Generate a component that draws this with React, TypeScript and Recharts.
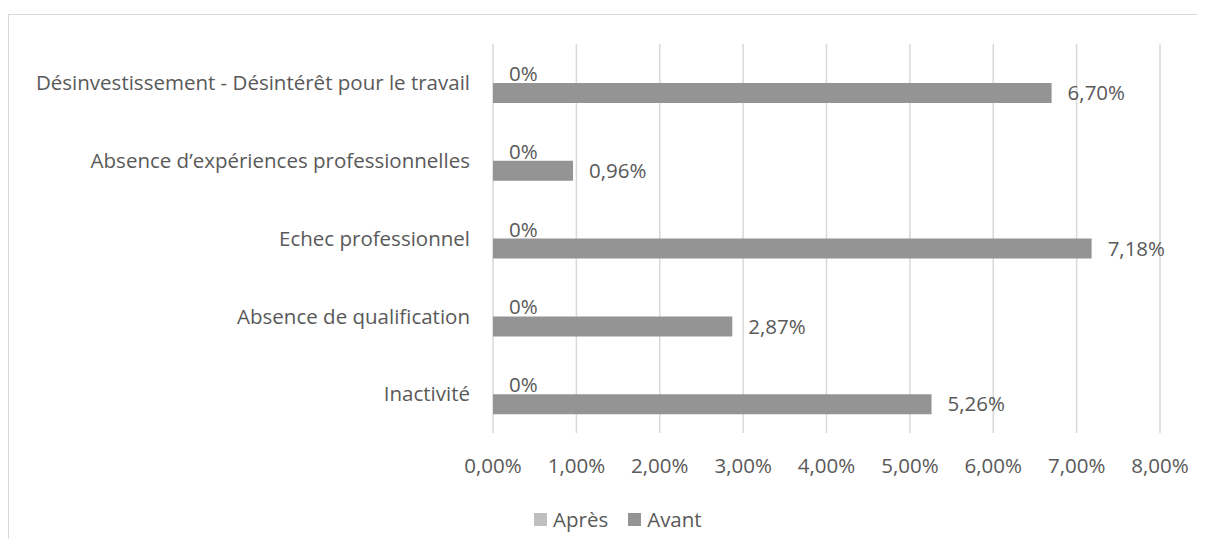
import React from 'react';
import { BarChart, Bar, XAxis, YAxis, CartesianGrid, Legend, LabelList } from 'recharts';

const categories = [
  'Désinvestissement - Désintérêt pour le travail',
  'Absence d’expériences professionnelles',
  'Echec professionnel',
  'Absence de qualification',
  'Inactivité',
];
const apres = [0, 0, 0, 0, 0];
const avant = [6.7, 0.96, 7.18, 2.87, 5.26];
const xTicks = [0, 1, 2, 3, 4, 5, 6, 7, 8];

const data = categories.map((name, i) => ({ name, apres: apres[i], avant: avant[i] }));

const TEXT = '#595959';
const FONT = 'Open Sans';
const FS = 20.5;

const fmtPct = (v: number) => v.toFixed(2).replace('.', ',') + '%';

const LegendContent = (props: any) => {
  const payload = props.payload || [];
  return (
    <div style={{ display: 'flex', alignItems: 'center', height: 24, marginLeft: 534, fontFamily: FONT, fontSize: FS, color: TEXT }}>
      {payload.map((p: any, i: number) => (
        <div key={i} style={{ display: 'flex', alignItems: 'center', marginRight: 20 }}>
          <div style={{ width: 13, height: 13, background: p.color, marginRight: 6 }} />
          <span style={{ lineHeight: '24px' }}>{p.value}</span>
        </div>
      ))}
    </div>
  );
};

// "Après" values are all zero, so their bars have no width; draw their labels
// in the Après bar slot (just above the Avant bar) at the zero position.
const ApresLabel = (props: any) => {
  const { x, y, height, value } = props;
  return (
    <text x={Number(x) + 16} y={Number(y) - Number(height) / 2} fill={TEXT} fontSize={FS} textAnchor="start" dominantBaseline="central">
      {`${value}%`}
    </text>
  );
};

export default function App() {
  return (
    <div style={{ position: 'relative', margin: -8, width: 1205, height: 547, overflow: 'hidden', background: '#fff', fontFamily: FONT }}>
      <div style={{ position: 'absolute', left: 8, top: 14, width: 1400, height: 800, borderTop: '1px solid #d9d9d9', borderLeft: '1px solid #d9d9d9' }} />
      <BarChart
        layout="vertical"
        width={1205}
        height={547}
        data={data}
        margin={{ top: 44, right: 45, left: 0, bottom: 16 }}
        barGap={0}
        style={{ fontFamily: FONT, position: 'absolute', left: 0, top: 0 }}
      >
        <CartesianGrid horizontal={false} stroke="#d9d9d9" strokeWidth={1.5} />
        <XAxis
          type="number"
          domain={[0, 8]}
          ticks={xTicks}
          tickFormatter={fmtPct}
          axisLine={false}
          tickLine={false}
          tickSize={0}
          tickMargin={25}
          height={74}
          tick={{ fill: TEXT, fontSize: FS }}
          interval={0}
        />
        <YAxis
          type="category"
          dataKey="name"
          width={493}
          axisLine={false}
          tickLine={false}
          tickSize={0}
          tickMargin={23}
          tick={{ fill: TEXT, fontSize: FS }}
          interval={0}
        />
        <Legend verticalAlign="bottom" content={<LegendContent />} wrapperStyle={{ left: 0, width: 1205 }} />
        <Bar dataKey="apres" name="Après" fill="#bfbfbf" barSize={20} isAnimationActive={false} />
        <Bar dataKey="avant" name="Avant" fill="#949494" barSize={20} isAnimationActive={false}>
          <LabelList dataKey="avant" position="right" offset={16} formatter={(v: any) => fmtPct(Number(v))} fill={TEXT} fontSize={FS} />
          <LabelList dataKey="apres" content={<ApresLabel />} />
        </Bar>
      </BarChart>
    </div>
  );
}
